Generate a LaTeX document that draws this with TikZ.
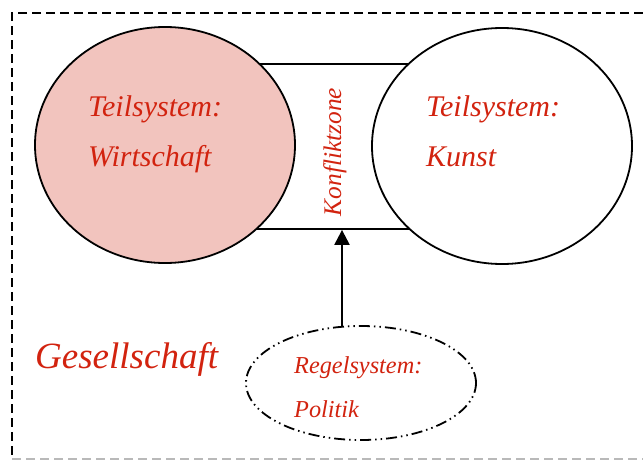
\documentclass[tikz,border=0pt]{standalone}
\usepackage{fontspec}
\setmainfont{Liberation Serif}
\usetikzlibrary{shapes.geometric,arrows.meta,calc}
\definecolor{txtred}{RGB}{210,35,15}
\definecolor{pinkfill}{RGB}{242,196,190}
\definecolor{framegray}{RGB}{185,185,185}
\tikzset{
  sysellipse/.style={ellipse, draw=black, line width=1.8pt, inner sep=0pt,
    minimum width=260pt, minimum height=236pt},
  label/.style={text=txtred, font=\itshape, inner sep=0pt, anchor=base west},
  framepart/.style={line width=2.2pt, dash pattern=on 9pt off 5pt},
}
\begin{document}
\begin{tikzpicture}[x=1pt,y=-1pt]
\useasboundingbox (0,0) rectangle (643,461);
% outer frame of the society
\draw[framepart] (643,13) -- (12,13) -- (12,459);
\draw[framepart, framegray, line width=1.5pt] (12,459) -- (643,459);
% conflict zone between the two subsystems
\node[draw=black, line width=1.8pt, minimum width=270pt, minimum height=165pt, inner sep=0pt]
  (zone) at (335,146.5) {};
\node[sysellipse, fill=pinkfill] (wirt) at (165,145) {};
\node[sysellipse, fill=white] (kunst) at (502,146) {};
\node[ellipse, draw=black, line width=1.8pt, inner sep=0pt, fill=white,
  minimum width=230pt, minimum height=114pt,
  dash pattern=on 11pt off 4pt on 1.5pt off 4pt on 1.5pt off 4pt] (pol) at (361,383) {};
% labels
\node[label, font=\itshape\fontsize{30}{31}\selectfont] at (88,116) {Teilsystem:};
\node[label, font=\itshape\fontsize{30}{31}\selectfont] at (88,166) {Wirtschaft};
\node[label, font=\itshape\fontsize{30}{31}\selectfont] at (426,116) {Teilsystem:};
\node[label, font=\itshape\fontsize{30}{31}\selectfont] at (426,166) {Kunst};
\node[label, font=\itshape\fontsize{24.3}{25}\selectfont] at (294,373) {Regelsystem:};
\node[label, font=\itshape\fontsize{24.3}{25}\selectfont] at (294,417) {Politik};
\node[label, font=\itshape\fontsize{37}{39}\selectfont] at (35,368) {Gesellschaft};
\node[text=txtred, inner sep=0pt, rotate=90, anchor=base,
  font=\itshape\fontsize{25.4}{26}\selectfont] (kz) at (341,152) {Konfliktzone};
% influence of the rule system on the conflict zone
\coordinate (foot) at ($(pol.north)+(-19,1)$);
\draw[line width=2.2pt, -{Triangle[width=15pt,length=15pt]}]
  (foot) -- (foot |- zone.south);
\end{tikzpicture}
\end{document}
